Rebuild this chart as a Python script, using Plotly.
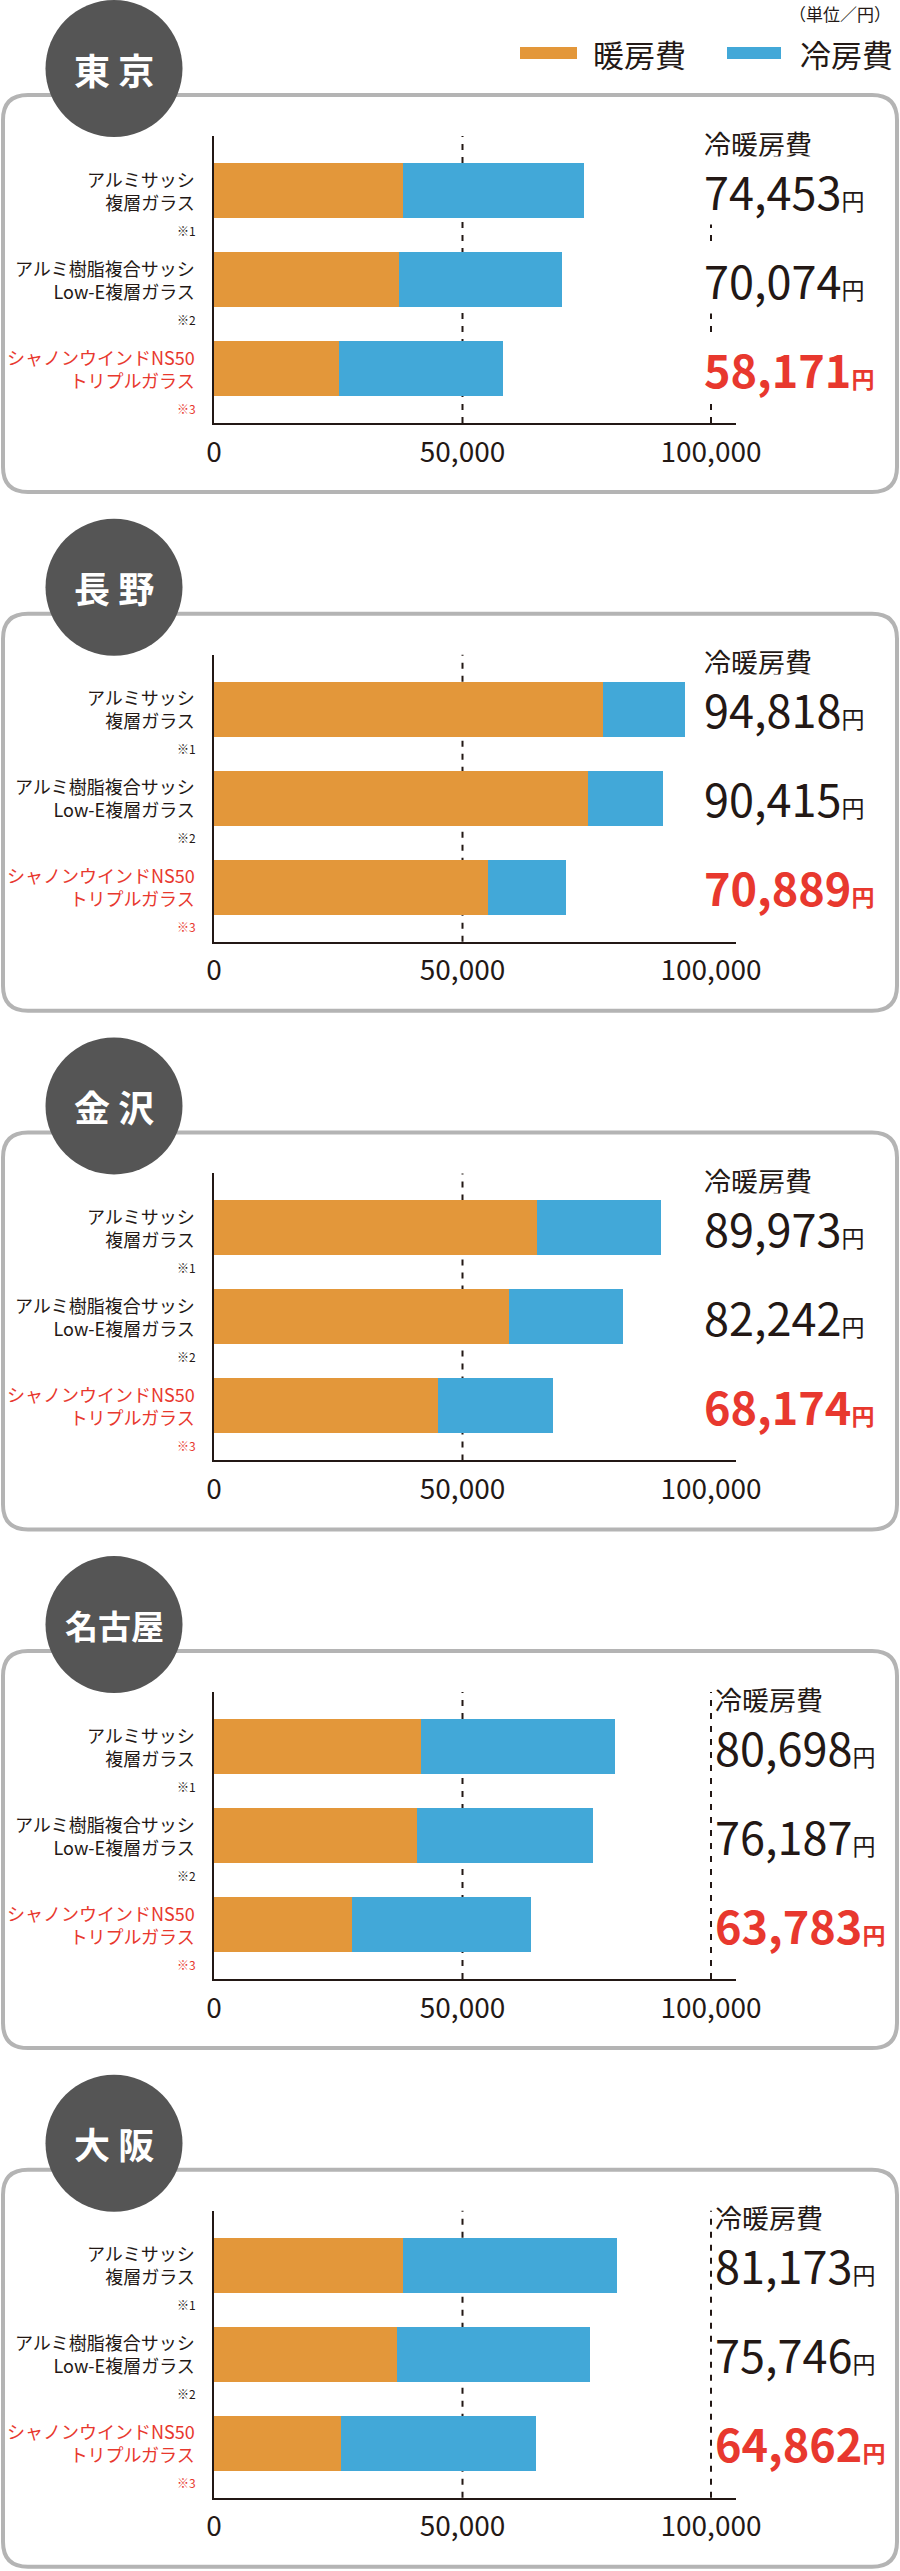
"""地域別 冷暖房費の比較（窓の仕様別）"""
import plotly.graph_objects as go

W, H = 900, 2571
FONT = "Noto Sans CJK JP"
INK = "#231815"
RED = "#e8382e"
ORANGE = "#e3973a"
BLUE = "#42a8d8"

# ---- data ----
CITIES = ["東 京", "長 野", "金 沢", "名古屋", "大 阪"]
CATEGORIES = ["アルミサッシ 複層ガラス", "アルミ樹脂複合サッシ Low-E複層ガラス", "シャノンウインドNS50 トリプルガラス"]
CAT_LABELS = ["アルミサッシ<br>複層ガラス", "アルミ樹脂複合サッシ<br>Low-E複層ガラス", "シャノンウインドNS50<br>トリプルガラス"]
NOTES = ["※1", "※2", "※3"]

tokyo_heat = [38040, 37240, 25140]
tokyo_cool = [36413, 32834, 33031]
tokyo_total = [74453, 70074, 58171]

nagano_heat = [78340, 75340, 55110]
nagano_cool = [16478, 15075, 15779]
nagano_total = [94818, 90415, 70889]

kanazawa_heat = [64940, 59420, 45100]
kanazawa_cool = [25033, 22822, 23074]
kanazawa_total = [89973, 82242, 68174]

nagoya_heat = [41620, 40870, 27830]
nagoya_cool = [39078, 35317, 35953]
nagoya_total = [80698, 76187, 63783]

osaka_heat = [38030, 36890, 25530]
osaka_cool = [43143, 38856, 39332]
osaka_total = [81173, 75746, 64862]

HEAT = [tokyo_heat, nagano_heat, kanazawa_heat, nagoya_heat, osaka_heat]
COOL = [tokyo_cool, nagano_cool, kanazawa_cool, nagoya_cool, osaka_cool]
TOTAL = [tokyo_total, nagano_total, kanazawa_total, nagoya_total, osaka_total]

TICK_VALS = [0, 50000, 100000]
TICK_TEXT = ["0", "50,000", "100,000"]


def px(x):
    return x / W


def py(y):
    return 1 - y / H


PITCH = 518.7
LABEL_X = [702, 702, 702, 713, 713]
SHOW_100K_LINE = [True, False, False, True, True]

fig = go.Figure()
shapes, annotations = [], []

for k, city in enumerate(CITIES):
    top = 95 + PITCH * k
    ax = "" if k == 0 else str(k + 1)
    xa, ya = "x" + ax, "y" + ax

    fig.add_trace(go.Bar(
        x=HEAT[k], y=CATEGORIES, orientation="h", marker=dict(color=ORANGE, line_width=0),
        width=0.618, name="暖房費", showlegend=False, xaxis=xa, yaxis=ya,
    ))
    fig.add_trace(go.Bar(
        x=COOL[k], y=CATEGORIES, orientation="h", marker=dict(color=BLUE, line_width=0),
        width=0.618, name="冷房費", showlegend=False, xaxis=xa, yaxis=ya,
    ))

    fig.update_layout({
        "xaxis" + ax: dict(
            domain=[px(214), px(736)], anchor=ya, range=[0, 105030],
            tickvals=TICK_VALS, ticktext=TICK_TEXT, tickfont=dict(size=28, color=INK),
            showgrid=False, zeroline=False, showline=True, linecolor=INK, linewidth=2,
            ticks="", ticklabelstandoff=3, fixedrange=True, automargin=False,
        ),
        "yaxis" + ax: dict(
            domain=[py(top + 328), py(top + 41)], anchor=xa, type="category",
            categoryorder="array", categoryarray=CATEGORIES, range=[2.618, -0.607],
            showticklabels=False, showgrid=False, zeroline=False, showline=True,
            linecolor=INK, linewidth=2, ticks="", fixedrange=True, automargin=False,
        ),
    })

    # 破線の目盛り線
    for v, show in [(50000, True), (100000, SHOW_100K_LINE[k])]:
        if show:
            shapes.append(dict(
                type="line", xref=xa, yref=ya + " domain", x0=v, x1=v, y0=0, y1=1,
                line=dict(color=INK, width=2, dash="6px,7px"), layer="below",
            ))

    # 角丸の枠
    x0, x1, y0, y1, r = 3, 897, top, top + 397, 25
    pts = [
        ("M", x0 + r, y0), ("L", x1 - r, y0), ("Q", x1, y0, x1, y0 + r),
        ("L", x1, y1 - r), ("Q", x1, y1, x1 - r, y1), ("L", x0 + r, y1),
        ("Q", x0, y1, x0, y1 - r), ("L", x0, y0 + r), ("Q", x0, y0, x0 + r, y0),
    ]
    path = ""
    for p in pts:
        coords = p[1:]
        segs = [f"{px(coords[i]):.5f},{py(coords[i + 1]):.5f}" for i in range(0, len(coords), 2)]
        path += p[0] + " ".join(segs) + " "
    shapes.append(dict(type="path", xref="paper", yref="paper", path=path + "Z",
                       line=dict(color="#b4b4b4", width=4), fillcolor="rgba(0,0,0,0)"))

    # 都市名の丸
    cx, cy, cr = 114, top - 26.5, 68.5
    shapes.append(dict(type="circle", xref="paper", yref="paper",
                       x0=px(cx - cr), x1=px(cx + cr), y0=py(cy + cr), y1=py(cy - cr),
                       fillcolor="#555555", line_width=0, layer="above"))
    name_size = 33 if " " not in city else 36
    annotations.append(dict(x=px(cx), y=py(cy), xref="paper", yref="paper", text=city,
                            xanchor="center", yanchor="middle", showarrow=False,
                            font=dict(size=name_size, color="white", weight=700)))

    # 冷暖房費の見出し
    annotations.append(dict(x=px(LABEL_X[k]), y=CATEGORIES[0], xref="paper", yref=ya, yshift=47,
                            text="冷暖房費", showarrow=False, xanchor="left", yanchor="middle",
                            bgcolor="white", font=dict(size=27, color=INK)))

    for i, cat in enumerate(CATEGORIES):
        color = RED if i == 2 else INK
        weight = 700 if i == 2 else 400
        annotations.append(dict(
            x=px(LABEL_X[k]), y=cat, xref="paper", yref=ya, showarrow=False,
            xanchor="left", yanchor="middle",
            text=f"{TOTAL[k][i]:,}<span style='font-size:23px'>円</span>", bgcolor="white",
            font=dict(size=45, color=color, weight=weight),
        ))
        annotations.append(dict(
            x=px(197), y=cat, xref="paper", yref=ya, showarrow=False, xanchor="right",
            yanchor="middle", align="right", text=CAT_LABELS[i],
            font=dict(size=18, color=color),
        ))
        annotations.append(dict(
            x=px(198), y=cat, xref="paper", yref=ya, yshift=-40, showarrow=False,
            xanchor="right", yanchor="middle", text=NOTES[i], font=dict(size=12, color=color),
        ))

# 凡例
for x0, x1, color, label, lx in [(520, 577, ORANGE, "暖房費", 591), (727, 781, BLUE, "冷房費", 798)]:
    shapes.append(dict(type="rect", xref="paper", yref="paper", x0=px(x0), x1=px(x1),
                       y0=py(59), y1=py(47), fillcolor=color, line_width=0))
    annotations.append(dict(x=px(lx), y=py(53), xref="paper", yref="paper", text=label,
                            showarrow=False, xanchor="left", yanchor="middle",
                            font=dict(size=31, color=INK)))
annotations.append(dict(x=px(893), y=py(14), xref="paper", yref="paper", text="（単位／円）",
                        showarrow=False, xanchor="right", yanchor="middle",
                        font=dict(size=17, color=INK)))

fig.update_layout(
    width=W, height=H, autosize=False,
    margin=dict(l=0, r=0, t=0, b=0, pad=0, autoexpand=False),
    barmode="stack", bargap=0,
    paper_bgcolor="white", plot_bgcolor="rgba(0,0,0,0)",
    font=dict(family=FONT, color=INK),
    showlegend=False,
    shapes=shapes, annotations=annotations,
)

fig.write_html(
    "out.html",
    config={"displayModeBar": False, "responsive": False},
    post_script="document.body.style.margin='0';document.documentElement.style.overflow='hidden';",
)
